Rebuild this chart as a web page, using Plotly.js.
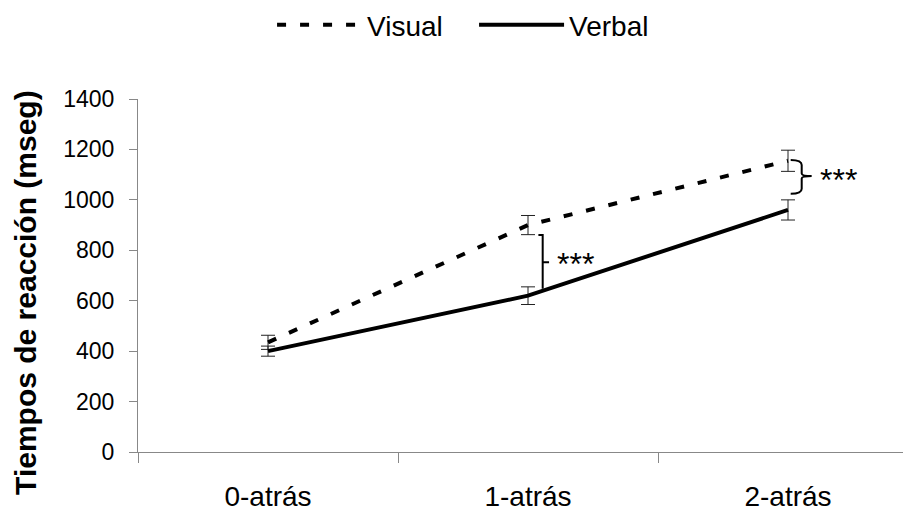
<!DOCTYPE html>
<html>
<head>
<meta charset="utf-8">
<script src="https://cdn.plot.ly/plotly-3.0.1.min.js"></script>
<style>html,body{margin:0;padding:0;background:#fff;}#chart{width:903px;height:513px;}</style>
</head>
<body>
<div id="chart"></div>
<script>
const categories = ['0-atrás', '1-atrás', '2-atrás'];
const visualRT = [435, 900, 1155];
const visualErr = [28, 38, 42];
const verbalRT = [400, 620, 960];
const verbalErr = [20, 35, 40];
const yTicks = [0, 200, 400, 600, 800, 1000, 1200, 1400];

const FONT = '"Liberation Sans", Arial, sans-serif';
const xIdx = categories.map((c, i) => i);

const traces = [
  {
    type: 'scatter', mode: 'lines', name: 'Visual',
    x: xIdx, y: visualRT,
    line: {color: '#000', width: 4, dash: '9px,14px'},
    error_y: {type: 'data', array: visualErr, visible: true, color: '#222', thickness: 1, width: 7}
  },
  {
    type: 'scatter', mode: 'lines', name: 'Verbal',
    x: xIdx, y: verbalRT,
    line: {color: '#000', width: 4},
    error_y: {type: 'data', array: verbalErr, visible: true, color: '#222', thickness: 1, width: 7}
  }
];

// bracket geometry (annotation marks, not data)
const b1x = 1.0565, b1top = 861, b1bot = 647, b1mid = 753;
const bx0 = 2.0104, bx1 = 2.0527, bx2 = 2.091, btop = 1158, bbot = 1024, bmid = 1095;

const layout = {
  width: 903, height: 513,
  margin: {l: 138, r: 0, t: 97, b: 61},
  paper_bgcolor: '#fff', plot_bgcolor: '#fff',
  font: {family: FONT, color: '#000'},
  showlegend: true,
  legend: {
    orientation: 'h', x: 0.4393, xanchor: 'center', y: 1.211, yanchor: 'middle',
    font: {family: FONT, size: 28, color: '#000'},
    itemwidth: 85, entrywidth: 102, entrywidthmode: 'pixels',
    bgcolor: 'rgba(0,0,0,0)', traceorder: 'normal'
  },
  xaxis: {
    range: [-0.5, -0.5 + 765 / 260],
    tickmode: 'array', tickvals: xIdx, ticktext: categories,
    ticks: '', showgrid: false, zeroline: false,
    showline: true, linecolor: '#888', linewidth: 1,
    tickfont: {family: FONT, size: 28, color: '#000'},
    ticklabelstandoff: 19,
    minor: {tickmode: 'array', tickvals: [-0.5, 0.5, 1.5], ticks: 'outside', ticklen: 10, tickcolor: '#888', tickwidth: 1, showgrid: false}
  },
  yaxis: {
    range: [0, 1400], tickmode: 'array', tickvals: yTicks,
    ticks: 'outside', ticklen: 8, tickcolor: '#888', tickwidth: 1,
    showgrid: false, zeroline: false,
    showline: true, linecolor: '#888', linewidth: 1,
    tickfont: {family: FONT, size: 23, color: '#000'},
    ticklabelstandoff: 10
  },
  shapes: [
    {type: 'path', xref: 'x', yref: 'y',
     path: `M 1.04,${b1top} L ${b1x},${b1top} L ${b1x},${b1bot} M ${b1x},${b1mid} L 1.081,${b1mid}`,
     line: {color: '#000', width: 2}},
    {type: 'path', xref: 'x', yref: 'y',
     path: `M ${bx0},${btop} Q ${bx1},${btop} ${bx1},${btop - 20} L ${bx1},${bmid + 10} Q ${bx1},${bmid} ${bx2},${bmid} Q ${bx1},${bmid} ${bx1},${bmid - 10} L ${bx1},${bbot + 20} Q ${bx1},${bbot} ${bx0},${bbot}`,
     line: {color: '#000', width: 2}}
  ],
  annotations: [
    {xref: 'paper', yref: 'paper', x: (26 - 138) / 765, y: (452 - 292) / 355,
     xanchor: 'center', yanchor: 'middle', textangle: -90, showarrow: false,
     text: '<b>Tiempos de reacción (mseg)</b>', font: {family: FONT, size: 30, color: '#000'}},
    {xref: 'x', yref: 'y', x: 1.181, y: 745, xanchor: 'center', yanchor: 'middle', showarrow: false,
     text: '***', font: {family: FONT, size: 32, color: '#000'}},
    {xref: 'x', yref: 'y', x: 2.115, y: 1080, xanchor: 'left', yanchor: 'middle', showarrow: false,
     text: '***', font: {family: FONT, size: 32, color: '#000'}}
  ]
};

Plotly.newPlot('chart', traces, layout, {staticPlot: true, displayModeBar: false});
</script>
</body>
</html>
